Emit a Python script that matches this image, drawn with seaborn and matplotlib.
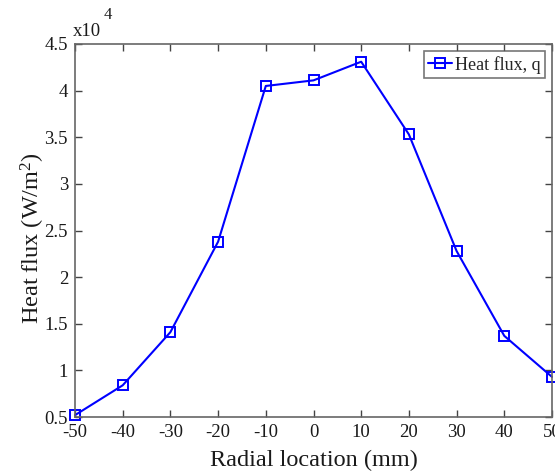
import matplotlib
matplotlib.use("Agg")
import matplotlib.pyplot as plt
import seaborn as sns
import pandas as pd

radial_mm = [-50, -40, -30, -20, -10, 0, 10, 20, 30, 40, 50]
heat_flux = [0.52, 0.84, 1.41, 2.38, 4.05, 4.11, 4.31, 3.53, 2.28, 1.37, 0.93]
x_ticks = [-50, -40, -30, -20, -10, 0, 10, 20, 30, 40, 50]
y_ticks = [0.5, 1, 1.5, 2, 2.5, 3, 3.5, 4, 4.5]
y_tick_labels = ["0.5", "1", "1.5", "2", "2.5", "3", "3.5", "4", "4.5"]

sns.set_style("white")
plt.rcParams['font.family'] = ['Liberation Serif', 'DejaVu Serif']
plt.rcParams['mathtext.fontset'] = 'custom'
plt.rcParams['mathtext.rm'] = 'Liberation Serif'
plt.rcParams['mathtext.it'] = 'Liberation Serif:italic'

df = pd.DataFrame({"x": radial_mm, "q": heat_flux})

fig = plt.figure(figsize=(5.55, 4.72), dpi=100)
ax = fig.add_axes([75/555, 1-417/472, (552-75)/555, (417-44)/472])

sns.lineplot(data=df, x="x", y="q", ax=ax, color="#0000ff", linewidth=1.5,
             marker="s", markersize=6.5, markerfacecolor="none",
             markeredgecolor="#0000ff", markeredgewidth=1.4,
             label="Heat flux, q", clip_on=False)

ax.set_xlim(-50, 50)
ax.set_ylim(0.5, 4.5)
ax.set_xticks(x_ticks)
ax.set_xticklabels([str(v) for v in x_ticks])
ax.set_yticks(y_ticks)
ax.set_yticklabels(y_tick_labels)
ax.tick_params(direction="in", length=5, width=1, color="#444444",
               labelsize=13.5, labelcolor="#1a1a1a", top=True, right=True,
               bottom=True, left=True, pad=5)
for s in ax.spines.values():
    s.set_color("#666666")
    s.set_linewidth(1.2)

ax.set_xlabel("Radial location (mm)", fontsize=17.5, color="#1a1a1a")
ax.set_ylabel("Heat flux (W/m$^{2}$)", fontsize=17.5, color="#1a1a1a")
ax.xaxis.set_label_coords(0.5, -0.088)
ax.yaxis.set_label_coords(-0.059, 0.48)

fig.text(73/555, 1-36/472, "x10", fontsize=13.5, color="#1a1a1a", ha="left", va="baseline")
fig.text(104/555, 1-19/472, "4", fontsize=12, color="#1a1a1a", ha="left", va="baseline")

leg = ax.legend(loc="upper right", fontsize=13, frameon=True, fancybox=False,
                borderpad=0.25, handlelength=1.3, handletextpad=0.15,
                borderaxespad=0.4)
leg.get_frame().set_edgecolor("#555555")
leg.get_frame().set_linewidth(1.2)

fig.savefig("out.png", dpi=100, facecolor="white")
